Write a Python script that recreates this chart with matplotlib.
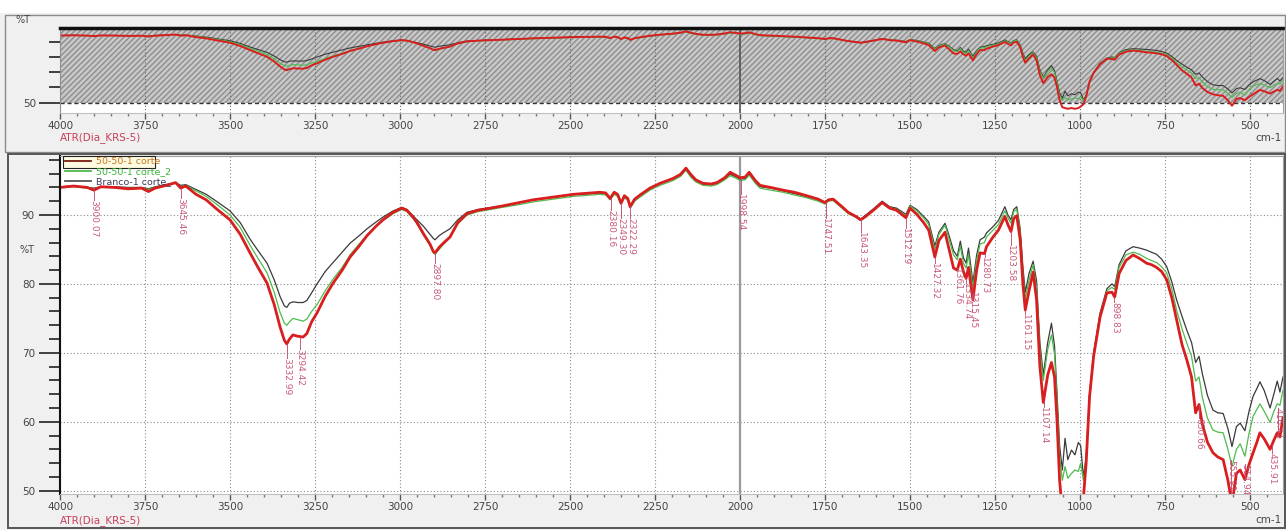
import numpy as np
import matplotlib.pyplot as plt
from matplotlib.lines import Line2D
from matplotlib.patches import Rectangle
from matplotlib.ticker import MultipleLocator

# FTIR spectra (%T vs wavenumber)
wavenumber = [4000, 3960, 3920, 3900, 3880, 3840, 3800, 3760, 3740, 3720,
              3680, 3660, 3645, 3630, 3600, 3570, 3540, 3500, 3470, 3441,
              3420, 3391, 3370, 3353, 3340, 3333, 3325, 3315, 3300, 3285,
              3274, 3260, 3244, 3220, 3197, 3170, 3147, 3120, 3097, 3070,
              3050, 3020, 2995, 2980, 2960, 2950, 2930, 2912, 2902, 2897,
              2885, 2873, 2853, 2830, 2803, 2770, 2745, 2700, 2650, 2609,
              2550, 2490, 2440, 2412, 2395, 2382, 2370, 2360, 2350, 2340,
              2330, 2323, 2310, 2294, 2265, 2235, 2197, 2175, 2159, 2145,
              2130, 2109, 2085, 2068, 2045, 2029, 2010, 2000, 1985, 1973,
              1955, 1941, 1910, 1873, 1840, 1804, 1770, 1750, 1740, 1726,
              1700, 1682, 1660, 1645, 1630, 1605, 1582, 1560, 1540, 1512,
              1500, 1480, 1460, 1445, 1427, 1415, 1397, 1385, 1372, 1361,
              1352, 1343, 1335, 1328, 1315, 1304, 1294, 1281, 1275, 1256,
              1240, 1221, 1212, 1203, 1195, 1186, 1176, 1168, 1161, 1150,
              1138, 1128, 1118, 1108, 1095, 1084, 1075, 1068, 1060, 1052,
              1044, 1036, 1025, 1015, 1005, 998, 990, 982, 972, 960,
              941, 921, 906, 898, 885, 865, 844, 825, 804, 790,
              775, 760, 745, 730, 716, 700, 686, 672, 660, 650,
              640, 625, 609, 595, 579, 565, 553, 540, 529, 515,
              503, 491, 480, 471, 458, 441, 430, 420, 412, 403]

# 50-50-1 corte (red)
corte_1 = [94.0, 94.2, 94.0, 93.6, 94.1, 94.0, 93.8, 93.9, 93.4, 93.9,
           94.4, 94.7, 93.9, 94.2, 93.0, 92.2, 90.9, 89.3, 87.2, 84.5,
           82.6, 80.1, 77.0, 73.8, 71.8, 71.3, 72.0, 72.6, 72.4, 72.3,
           72.8, 74.5, 75.8, 78.2, 80.1, 82.0, 83.9, 85.5, 87.0, 88.4,
           89.3, 90.4, 91.0, 90.7, 89.6, 88.9, 87.2, 85.8, 84.7, 84.5,
           85.3, 85.9, 86.8, 88.9, 90.2, 90.7, 90.9, 91.3, 91.8, 92.2,
           92.6, 93.0, 93.2, 93.3, 93.2, 92.4, 93.3, 93.0, 91.7, 92.8,
           92.4, 91.2, 92.3, 92.9, 93.9, 94.6, 95.3, 95.9, 96.8, 95.9,
           95.1, 94.6, 94.5, 94.7, 95.4, 96.2, 95.7, 95.4, 95.5, 96.2,
           95.0, 94.3, 94.0, 93.6, 93.3, 92.8, 92.3, 91.8, 92.2, 92.3,
           91.2, 90.4, 89.8, 89.3, 89.8, 90.8, 91.8, 91.0, 90.7, 89.6,
           91.0, 90.1, 88.9, 87.8, 83.9, 86.3, 87.5, 85.0, 82.3, 82.0,
           83.6, 81.8, 80.8, 82.4, 77.7, 82.0, 84.5, 84.4, 85.4, 86.8,
           87.8, 89.8, 88.6, 87.6, 89.5, 89.9, 86.4, 80.0, 76.2, 79.0,
           81.7, 77.8, 68.0, 62.8, 66.8, 68.6, 66.5, 60.5, 51.5, 47.0,
           46.5, 46.0, 46.5, 46.0, 46.5, 47.5, 49.0, 54.0, 63.6, 69.5,
           75.2, 78.7, 78.8, 78.1, 81.5, 83.4, 84.2, 83.7, 83.0, 82.8,
           82.4, 81.8, 80.6, 78.0, 74.8, 71.2, 69.0, 66.5, 61.3, 62.5,
           59.6, 57.0, 55.5, 54.9, 54.5, 51.5, 48.0, 52.5, 53.0, 51.6,
           53.8, 55.5, 57.0, 58.4, 57.5, 56.0, 57.3, 58.4, 57.8, 60.6]

# 50-50-1 corte_2 (green)
corte_2 = [94.0, 94.1, 93.9, 93.8, 94.0, 94.0, 93.9, 93.9, 93.7, 94.0,
           94.4, 94.6, 94.1, 94.3, 93.5, 92.7, 91.6, 90.0, 88.2, 85.6,
           83.9, 81.6, 78.8, 75.9, 74.3, 74.0, 74.5, 75.0, 74.8, 74.6,
           74.9, 76.0, 77.0, 79.0, 80.7, 82.4, 84.2, 85.8, 87.1, 88.4,
           89.2, 90.2, 90.8, 90.5, 89.4, 88.7, 87.0, 85.6, 84.5, 84.3,
           85.0, 85.7, 86.7, 88.7, 90.0, 90.5, 90.7, 91.1, 91.5, 91.9,
           92.3, 92.7, 92.9, 93.0, 92.9, 92.2, 93.0, 92.7, 91.6, 92.5,
           92.1, 91.0, 92.0, 92.6, 93.6, 94.3, 95.0, 95.6, 96.5, 95.5,
           94.8, 94.3, 94.2, 94.4, 95.1, 95.7, 95.3, 95.0, 95.1, 95.8,
           94.6, 93.9, 93.6, 93.3, 92.9, 92.5, 92.0, 91.6, 92.0, 92.1,
           91.0, 90.2, 89.7, 89.2, 89.8, 90.9, 91.8, 91.1, 90.8, 89.9,
           91.3, 90.6, 89.6, 88.6, 85.0, 87.2, 88.5, 86.5, 84.2, 83.5,
           85.5, 83.0, 82.3, 84.3, 79.3, 83.5, 85.8, 86.0, 86.8, 87.8,
           88.6, 90.6, 89.6, 88.8, 90.5, 90.8, 87.5, 81.5, 77.8, 80.5,
           82.8, 79.5, 70.5, 66.0, 70.5, 72.6, 69.8, 63.5, 55.0, 51.5,
           53.5, 51.8, 52.5, 53.0, 52.8, 54.0, 51.5, 54.5, 63.8, 69.8,
           75.5, 79.0, 79.5, 79.2, 82.4, 84.2, 84.6, 84.3, 83.7, 83.4,
           83.1, 82.5, 81.6, 79.3, 76.2, 73.5, 71.4, 69.5, 65.9, 66.5,
           63.5, 60.5, 58.8, 58.5, 58.4, 56.0, 53.5, 56.0, 56.8, 55.0,
           58.3, 60.8, 61.8, 62.6, 61.5, 59.9, 61.5, 62.6, 62.4, 64.6]

# Branco-1 corte_ (black)
branco = [94.1, 94.2, 94.0, 93.9, 94.1, 94.1, 94.0, 94.0, 93.8, 94.1,
          94.5, 94.7, 94.3, 94.4, 93.7, 93.0, 92.0, 90.6, 88.9, 86.5,
          85.0, 83.0, 80.6, 78.2, 76.8, 76.6, 77.2, 77.4, 77.3, 77.3,
          77.6, 78.7, 80.0, 81.8, 83.1, 84.6, 85.9, 87.0, 88.0, 89.0,
          89.7, 90.6, 91.1, 90.8, 89.8, 89.3, 88.3, 87.2, 86.6, 86.4,
          87.0, 87.4, 88.0, 89.3, 90.4, 90.8, 91.0, 91.3, 91.8, 92.2,
          92.6, 93.0, 93.1, 93.2, 93.1, 92.5, 93.2, 93.0, 91.8, 92.8,
          92.3, 91.3, 92.2, 92.8, 93.8, 94.6, 95.3, 95.8, 96.6, 95.7,
          95.0, 94.5, 94.4, 94.6, 95.3, 95.9, 95.5, 95.2, 95.3, 95.9,
          94.8, 94.1, 93.9, 93.5, 93.1, 92.7, 92.2, 91.8, 92.2, 92.3,
          91.2, 90.4, 89.9, 89.4, 90.0, 91.0, 92.0, 91.2, 91.0, 90.1,
          91.4, 90.8, 89.8, 89.0, 85.5, 87.5, 88.8, 87.0, 84.8, 84.0,
          86.2, 83.8, 83.0, 85.2, 80.2, 84.2, 86.4, 86.8, 87.4, 88.3,
          89.2, 91.2, 90.0, 89.3, 90.8, 91.2, 88.0, 82.5, 78.8, 81.5,
          83.3, 80.5, 71.5, 66.8, 71.5, 74.3, 71.0, 64.5, 56.5, 53.0,
          57.6, 54.5, 55.9, 55.2, 57.0, 56.5, 52.0, 54.8, 64.0, 70.0,
          75.8, 79.3, 80.0, 79.6, 82.8, 84.8, 85.4, 85.2, 84.9, 84.6,
          84.3, 83.6, 82.5, 80.3, 77.7, 75.3, 73.3, 71.5, 68.6, 69.5,
          66.9, 63.8, 61.7, 61.3, 61.2, 59.0, 56.4, 59.3, 59.8, 58.7,
          61.5, 63.7, 64.8, 65.8, 64.5, 62.0, 64.0, 65.9, 64.3, 66.5]

series_names = ["50-50-1 corte", "50-50-1 corte_2", "Branco-1 corte_"]

# peak picks printed under the spectrum
peak_labels = ["3900.07", "3645.46", "3332.99", "3294.42", "2897.80", "2380.16",
               "2349.30", "2322.29", "1998.54", "1747.51", "1643.35", "1512.19",
               "1427.32", "1361.76", "1334.74", "1315.45", "1280.73", "1203.58",
               "1161.15", "1107.14", "898.83", "650.66", "555.91", "514.94",
               "435.91", "416.41"]
peak_wn = [float(p) for p in peak_labels]

W, H = 1286.0, 530.0


def px_box(x0, y0, x1, y1):
    # screenshot pixels (origin top-left) -> figure fraction rect
    return [x0 / W, 1 - y1 / H, (x1 - x0) / W, (y1 - y0) / H]


red = '#d81e1e'
green = '#4dbb4d'
black = '#3a3a3a'
label_red = '#c4486a'
tick_grey = '#444444'

fig = plt.figure(figsize=(12.86, 5.30), dpi=100)
fig.patch.set_facecolor('#f0f0f0')

# white strip at the top and the two panel frames
fig.patches.append(Rectangle((0, 1 - 13 / H), 1, 13 / H, transform=fig.transFigure,
                             facecolor='white', edgecolor='none'))
fig.patches.append(Rectangle((5 / W, 1 - 152 / H), 1280 / W, 137 / H, transform=fig.transFigure,
                             fill=False, edgecolor='#8a8a8a', lw=1.0))
fig.patches.append(Rectangle((8 / W, 1 - 528 / H), 1277 / W, 374 / H, transform=fig.transFigure,
                             fill=False, edgecolor='#555555', lw=1.4))

xmin, xmax = 4000, 403
view_lo, view_hi = 50, 98.56

# ---------------- overview panel ----------------
ax_top = fig.add_axes(px_box(60, 28, 1283, 113))
ax_top.set_facecolor('white')
ax_top.set_xlim(xmin, xmax)
ax_top.set_ylim(43.25, 98.98)
ax_top.set_axisbelow('line')

# hatched box = the range shown in the lower panel
ax_top.add_patch(Rectangle((xmin, view_lo), xmax - xmin, view_hi - view_lo,
                           facecolor='#c8c8c8', edgecolor='#8e8e8e', hatch='//////',
                           lw=0, zorder=0.5))
ax_top.axhline(view_lo, color='#333333', ls=(0, (3, 2)), lw=1.0, zorder=1.6)
ax_top.grid(axis='x', which='major', color='#6a6a6a', ls=(0, (1, 2)), lw=0.8)
ax_top.axvline(2000, color='#555555', lw=1.2, zorder=1.7)

ax_top.plot(wavenumber, branco, color=black, lw=0.8)
ax_top.plot(wavenumber, corte_2, color=green, lw=0.8)
ax_top.plot(wavenumber, corte_1, color=red, lw=1.4)

ax_top.set_yticks([50])
ax_top.set_yticklabels(['50'])
ax_top.set_yticks([60, 70, 80, 90], minor=True)
ax_top.tick_params(axis='y', which='major', length=15, width=1.2, color='#222222',
                   labelsize=7.5, labelcolor=tick_grey, pad=2)
ax_top.tick_params(axis='y', which='minor', length=8, width=1.2, color='#222222')

# ---------------- main panel ----------------
ax = fig.add_axes(px_box(60, 156, 1283, 494))
ax.set_facecolor('white')
ax.set_xlim(xmin, xmax)
ax.set_ylim(49.52, view_hi)
ax.set_axisbelow('line')

ax.grid(which='major', color='#8a8a8a', ls=(0, (1, 2)), lw=0.8)
ax.axvline(2000, color='#9a9a9a', lw=1.6, zorder=1.7)

ax.plot(wavenumber, branco, color=black, lw=0.9)
ax.plot(wavenumber, corte_2, color=green, lw=0.9)
ax.plot(wavenumber, corte_1, color=red, lw=2.0)

ax.set_yticks([50, 60, 70, 80, 90])
ax.yaxis.set_minor_locator(MultipleLocator(2))
ax.tick_params(axis='y', which='major', length=15, width=1.2, color='#222222',
               labelsize=7.5, labelcolor=tick_grey, pad=3)
ax.tick_params(axis='y', which='minor', length=8, width=1.2, color='#222222')

# shared x axis styling for both panels
for a in (ax_top, ax):
    a.set_xticks(np.arange(4000, 499, -250))
    a.xaxis.set_minor_locator(MultipleLocator(50))
    a.tick_params(axis='x', which='major', length=4, width=1.0, color='#555555',
                  labelsize=7.5, labelcolor=tick_grey, pad=2)
    a.tick_params(axis='x', which='minor', length=2, width=1.0, color='#777777')
    a.spines['right'].set_color('#a0a0a0')
    a.spines['bottom'].set_color('#c0c0c0')

ax_top.spines['top'].set_linewidth(2.5)
ax_top.spines['top'].set_color('#111111')
ax_top.spines['left'].set_color('#909090')
ax.spines['top'].set_color('#a0a0a0')
ax.spines['left'].set_color('#111111')
ax.spines['left'].set_linewidth(1.5)

# peak labels hanging under the red trace
label_top = [92.2, 92.4, 69.2, 70.6, 83.0, 90.7, 89.6, 89.6, 93.0, 89.6, 87.5, 88.1,
             83.0, 82.3, 80.1, 78.9, 83.9, 85.7, 75.6, 62.1, 77.4, 60.6, 54.4, 53.9,
             55.4, 62.0]
wn_inc = np.array(wavenumber[::-1], dtype=float)
red_inc = np.array(corte_1[::-1], dtype=float)
for lab, wn_p, top in zip(peak_labels, peak_wn, label_top):
    y0 = np.interp(wn_p, wn_inc, red_inc)
    ax.plot([wn_p, wn_p], [y0, top], color=label_red, lw=0.7, alpha=0.9)
    ax.text(wn_p, top, lab, rotation=270, ha='center', va='top', fontsize=6.5,
            color=label_red, alpha=0.9, clip_on=True)

# legend, first entry highlighted like the selected trace
ax.add_patch(Rectangle((63 / W, 1 - 168 / H), 92 / W, 12 / H, transform=fig.transFigure,
                       facecolor='#fffbe2', edgecolor='#222222', lw=0.8, zorder=4,
                       clip_on=False))
handles = [Line2D([], [], color='#7a1c10', lw=1.3),
           Line2D([], [], color=green, lw=1.3),
           Line2D([], [], color='#555555', lw=1.3)]
leg = ax.legend(handles, series_names, loc='upper left', bbox_to_anchor=(0.003, 1.0),
                frameon=False, fontsize=6.8, handlelength=2.8, handletextpad=0.5,
                labelspacing=0.12, borderpad=0.1, borderaxespad=0.0)
for t, c in zip(leg.get_texts(), ['#c8781e', '#3cb43c', '#3c3c5c']):
    t.set_color(c)

# axis captions
fig.text(15 / W, 1 - 20 / H, '%T', fontsize=7, color=tick_grey, va='center')
fig.text(20 / W, 1 - 250 / H, '%T', fontsize=7, color=tick_grey, va='center')
fig.text(60 / W, 1 - 138 / H, 'ATR(Dia_KRS-5)', fontsize=7.5, color='#c8405a', va='center')
fig.text(60 / W, 1 - 521 / H, 'ATR(Dia_KRS-5)', fontsize=7.5, color='#c8405a', va='center')
fig.text(1282 / W, 1 - 138 / H, 'cm-1', fontsize=7.5, color=tick_grey, va='center', ha='right')
fig.text(1282 / W, 1 - 520 / H, 'cm-1', fontsize=7.5, color=tick_grey, va='center', ha='right')

fig.savefig('out.png', dpi=100, facecolor=fig.get_facecolor())
